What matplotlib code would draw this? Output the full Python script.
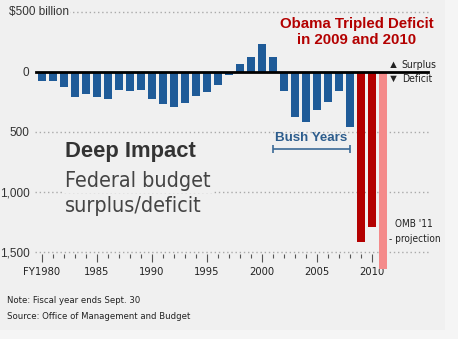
import matplotlib
matplotlib.use("Agg")
import matplotlib.pyplot as plt
from matplotlib.patches import Rectangle
from matplotlib.ticker import FixedLocator

# fiscal years and surplus(+)/deficit(-) in $ billion
years = list(range(1980, 2012))
balance = [-74, -79, -128, -208, -185, -212, -221, -150, -155, -153,
           -221, -269, -290, -255, -203, -164, -107, -22, 69, 126,
           236, 128, -158, -378, -413, -318, -248, -161, -459, -1413,
           -1294, -1645]
obama_years = [2009, 2010]
projection_years = [2011]

year_labels = ["FY1980", "1985", "1990", "1995", "2000", "2005", "2010"]
y_ticks = [500, 0, -500, -1000, -1500]
y_labels = ["", "0", "500", "1,000", "1,500"]

BG = "#f0f0f0"
BLUE = "#1f5b98"
RED = "#b30000"
PINK = "#f48a8a"
NARROW = dict(family=["DejaVu Sans"], stretch="condensed")

plt.rcParams["font.family"] = ["Liberation Sans", "DejaVu Sans"]

fig = plt.figure(figsize=(4.58, 3.39), dpi=100, facecolor="#f5f5f5")
fig.patches.append(Rectangle((0, 9 / 339), 445 / 458, 330 / 339, transform=fig.transFigure,
                             facecolor=BG, edgecolor="none", zorder=-5))

ax = fig.add_axes([35 / 458, 59 / 339, 395 / 458, 275 / 339])
ax.set_facecolor("none")
ax.set_xlim(1980 - 7 / 11, 1980 + 388 / 11)
ax.set_ylim(-1733.3, 558.3)

colors = []
for y in years:
    if y in projection_years:
        colors.append(PINK)
    elif y in obama_years:
        colors.append(RED)
    else:
        colors.append(BLUE)
ax.bar(years, balance, width=0.65, color=colors, zorder=2)
ax.axhline(0, xmin=0.003, xmax=0.995, color="black", lw=2, zorder=3)

for v in [500, -500, -1000, -1500]:
    ax.axhline(v, color="#aaaaaa", lw=1, ls=(0, (1, 2)), zorder=1)

for s in ["top", "right", "left"]:
    ax.spines[s].set_visible(False)
ax.spines["bottom"].set_position(("data", -1517))
ax.spines["bottom"].set_color("none")

ax.set_xticks([1980, 1985, 1990, 1995, 2000, 2005, 2010])
ax.set_xticklabels(year_labels, fontsize=8, color="#222222", **NARROW)
ax.xaxis.set_minor_locator(FixedLocator(years))
ax.tick_params(axis="x", which="major", length=6, width=0.8, color="#555555", pad=3)
ax.tick_params(axis="x", which="minor", length=3, width=0.8, color="#555555")

ax.set_yticks(y_ticks)
ax.set_yticklabels(y_labels, fontsize=8.5, color="#333333")
ax.tick_params(axis="y", length=0, pad=4)

ax.text(1977.0, 500, "$500 billion", fontsize=8.5, color="#333333", va="center", ha="left",
        bbox=dict(facecolor=BG, edgecolor="none", pad=1), zorder=4, clip_on=False)

ax.text(2008.6, 335, "Obama Tripled Deficit\nin 2009 and 2010", fontsize=10.8,
        fontweight="bold", color=RED, ha="center", va="center", linespacing=1.2)

ax.text(2011.9, 55, "\u25b2", fontsize=8, color="#222222", ha="center", va="center")
ax.text(2011.9, -60, "\u25bc", fontsize=8, color="#222222", ha="center", va="center")
ax.text(2012.7, 58, "Surplus", fontsize=7.5, color="#222222", va="center", **NARROW)
ax.text(2012.7, -58, "Deficit", fontsize=7.5, color="#222222", va="center", **NARROW)

ax.text(2004.5, -550, "Bush Years", fontsize=9.6, fontweight="bold", color="#2d5d8d",
        ha="center", va="center")
ax.errorbar([2004.5], [-642], xerr=[[3.5], [3.5]], color="#3b6a96", lw=1.2,
            capsize=3, capthick=1.2)

ax.text(1982.1, -706, "Deep Impact", fontsize=15.8, fontweight="bold", color="#333333")
ax.text(1982.1, -961, "Federal budget", fontsize=15.4, color="#444444",
        bbox=dict(facecolor=BG, edgecolor="none", pad=1), zorder=4, **NARROW)
ax.text(1982.1, -1164, "surplus/deficit", fontsize=15.4, color="#444444",
        zorder=4, **NARROW)

ax.text(2012.1, -1292, "OMB '11", fontsize=7.2, color="#222222", **NARROW)
ax.text(2011.55, -1414, "- projection", fontsize=7.2, color="#222222", **NARROW)

fig.text(7 / 458, 1 - 303 / 339, "Note: Fiscal year ends Sept. 30",
         fontsize=6.8, color="#222222", **NARROW)
fig.text(7 / 458, 1 - 319 / 339, "Source: Office of Management and Budget",
         fontsize=6.8, color="#222222", **NARROW)

fig.savefig("out.png", dpi=100, facecolor=fig.get_facecolor())
